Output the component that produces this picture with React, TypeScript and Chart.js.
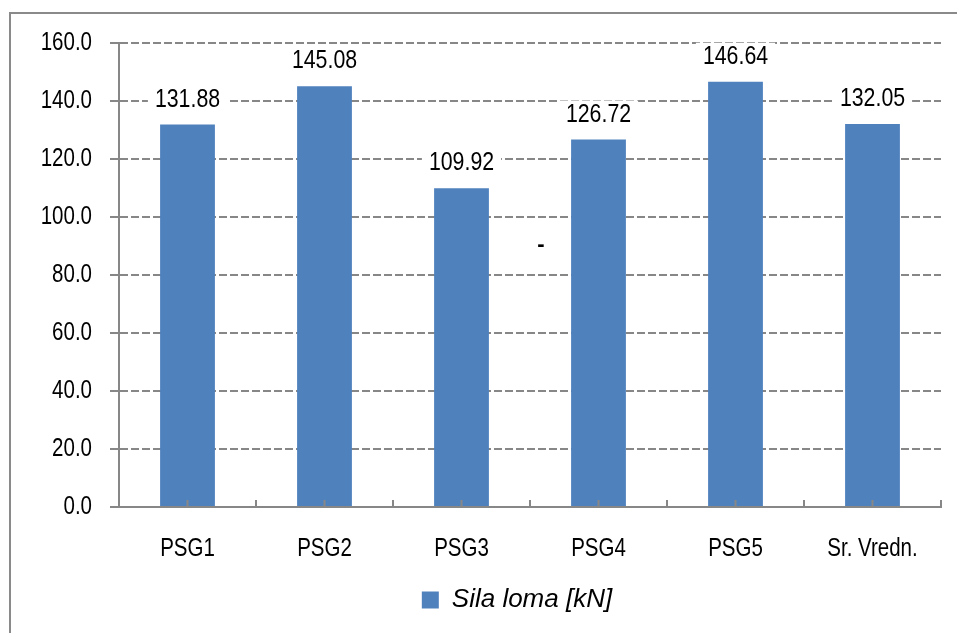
import React, { useEffect, useRef } from "react";
import { Chart, registerables } from "chart.js";

Chart.register(...registerables);

const categories = ["PSG1", "PSG2", "PSG3", "PSG4", "PSG5", "Sr. Vredn."];
const silaLoma = [131.88, 145.08, 109.92, 126.72, 146.64, 132.05];
const seriesLabel = "Sila loma [kN]";
const yMin = 0;
const yMax = 160;
const yStep = 20;

const NARROW = '"Liberation Sans Narrow", "Liberation Sans", Arial, sans-serif';
const REGULAR = '"Liberation Sans", Arial, sans-serif';
const GRAY = "#878787";
const BLUE = "#4F81BD";
const NARROW_RATIO = 0.82;

const framePlugin = {
  id: "frame",
  beforeDraw(chart: any) {
    const ctx = chart.ctx;
    ctx.save();
    ctx.fillStyle = "#ffffff";
    ctx.fillRect(0, 0, chart.width, chart.height);
    ctx.strokeStyle = "#8a8a8a";
    ctx.lineWidth = 2;
    ctx.beginPath();
    ctx.moveTo(10, chart.height + 2);
    ctx.lineTo(10, 13);
    ctx.lineTo(chart.width + 2, 13);
    ctx.stroke();
    ctx.restore();
  },
};

// nudge the legend so it sits slightly left of the plot centre, as in the source
const legendShiftPlugin = {
  id: "legendShift",
  afterLayout(chart: any) {
    const lg = chart.legend;
    if (!lg) return;
    const dx = -13;
    lg.left += dx;
    lg.right += dx;
  },
};

const xTicksPlugin = {
  id: "xTicksInside",
  afterDatasetsDraw(chart: any) {
    const ctx = chart.ctx;
    const xs = chart.scales.x;
    const bottom = chart.chartArea.bottom;
    ctx.save();
    ctx.strokeStyle = GRAY;
    ctx.lineWidth = 2;
    ctx.beginPath();
    for (let i = 0; i <= categories.length; i++) {
      const xb = xs.getPixelForValue(i - 0.5);
      ctx.moveTo(xb, bottom);
      ctx.lineTo(xb, bottom - 7);
      if (i < categories.length) {
        const xc = xs.getPixelForValue(i);
        ctx.moveTo(xc, bottom);
        ctx.lineTo(xc, bottom - 7);
      }
    }
    ctx.stroke();
    ctx.restore();
  },
};

const valueLabelPlugin = {
  id: "valueLabels",
  afterDatasetsDraw(chart: any) {
    const ctx = chart.ctx;
    const meta = chart.getDatasetMeta(0);
    const data = chart.data.datasets[0].data as number[];
    ctx.save();
    ctx.font = `26px ${NARROW}`;
    ctx.textAlign = "center";
    ctx.textBaseline = "middle";
    meta.data.forEach((bar: any, i: number) => {
      const text = data[i].toFixed(2);
      const w = ctx.measureText(text).width * NARROW_RATIO;
      const cy = bar.y - 25;
      ctx.fillStyle = "#ffffff";
      ctx.fillRect(bar.x - w / 2 - 7, cy - 14, w + 14, 28);
      ctx.fillStyle = "#000000";
      ctx.fillText(text, bar.x, cy);
    });
    // stray hyphen present in the source image
    const xs = chart.scales.x;
    const ys = chart.scales.y;
    ctx.font = `bold 22px ${REGULAR}`;
    ctx.fillText("-", xs.getPixelForValue(2.58), ys.getPixelForValue(90.5));
    ctx.restore();
  },
};

export default function App() {
  const ref = useRef<HTMLCanvasElement>(null);
  useEffect(() => {
    document.body.style.margin = "0";
    const canvas = ref.current as HTMLCanvasElement;
    const c2d = canvas.getContext("2d") as any;
    // condensed rendering for the "narrow" font (Arial Narrow look)
    const origFill = c2d.fillText.bind(c2d);
    c2d.fillText = (t: string, x: number, y: number, mw?: number) => {
      if (String(c2d.font).includes("Narrow")) {
        const w = c2d.measureText(t).width * NARROW_RATIO;
        return origFill(t, x, y, mw !== undefined ? Math.min(mw, w) : w);
      }
      return mw !== undefined ? origFill(t, x, y, mw) : origFill(t, x, y);
    };
    const chart = new Chart(canvas, {
      type: "bar",
      data: {
        labels: categories,
        datasets: [
          {
            label: seriesLabel,
            data: silaLoma,
            backgroundColor: BLUE,
            borderWidth: 0,
            barPercentage: 0.4,
            categoryPercentage: 1,
          },
        ],
      },
      options: {
        animation: false,
        responsive: false,
        devicePixelRatio: 1,
        layout: { padding: { left: 0, right: 16, top: 43, bottom: 10 } },
        plugins: {
          tooltip: { enabled: false },
          legend: {
            position: "bottom",
            fullSize: false,
            labels: {
              font: { family: REGULAR, size: 26, style: "italic" },
              color: "#000000",
              boxWidth: 17,
              boxHeight: 17,
              padding: 10,
            },
          },
        },
        scales: {
          x: {
            offset: true,
            grid: { display: false, drawTicks: false },
            border: { display: true, color: GRAY, width: 2 },
            ticks: {
              color: "#000000",
              font: { family: NARROW, size: 25 },
              padding: 27,
              maxRotation: 0,
              autoSkip: false,
            },
            afterFit(scale: any) {
              scale.height = 70;
            },
          },
          y: {
            min: yMin,
            max: yMax,
            grid: {
              color: GRAY,
              lineWidth: 2,
              tickLength: 9,
              tickColor: GRAY,
              tickBorderDash: [],
            },
            border: { display: true, color: GRAY, width: 2, dash: [8, 3] },
            ticks: {
              stepSize: yStep,
              color: "#000000",
              font: { family: NARROW, size: 25 },
              padding: 18,
              callback: (v: any) => Number(v).toFixed(1),
            },
            afterFit(scale: any) {
              scale.width = 119;
            },
          },
        },
      },
      plugins: [framePlugin, legendShiftPlugin, xTicksPlugin, valueLabelPlugin],
    } as any);
    return () => {
      chart.destroy();
      c2d.fillText = origFill;
    };
  }, []);
  return <canvas ref={ref} width={957} height={633} style={{ display: "block" }} />;
}
